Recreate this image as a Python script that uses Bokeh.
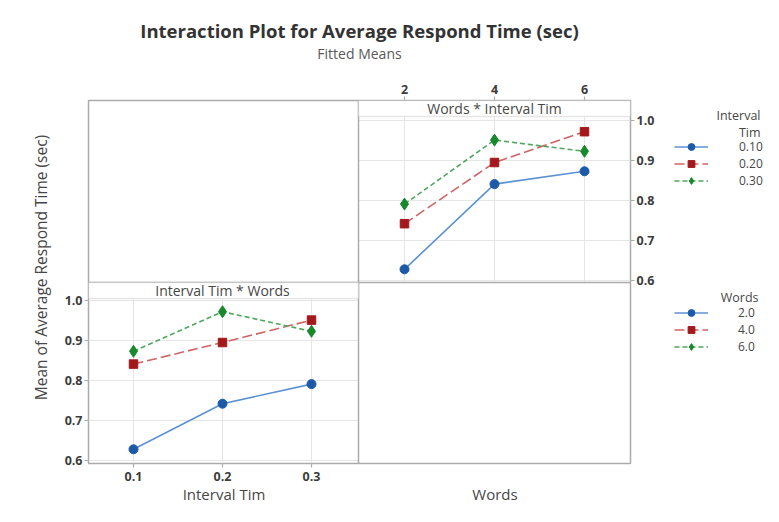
from bokeh.plotting import figure
from bokeh.layouts import column, row
from bokeh.models import (Range1d, LinearAxis, FixedTicker, Grid,
                          Span, BoxAnnotation, Label, Legend, LegendItem, PrintfTickFormatter)
from bokeh.embed import file_html
from bokeh.resources import INLINE

# ---------------- data ----------------
interval_levels = [0.1, 0.2, 0.3]
interval_labels = ["0.10", "0.20", "0.30"]
words_levels = [2, 4, 6]
words_labels = ["2.0", "4.0", "6.0"]
# fitted means for each Interval Tim level, ordered by Words = 2, 4, 6
means_int_010 = [0.628, 0.841, 0.873]
means_int_020 = [0.742, 0.895, 0.972]
means_int_030 = [0.791, 0.951, 0.923]
y_ticks = [0.6, 0.7, 0.8, 0.9, 1.0]

title_text = "Interaction Plot for Average Respond Time (sec)"
subtitle_text = "Fitted Means"
y_label_text = "Mean of Average Respond Time (sec)"
x_label_texts = ["Interval Tim", "Words"]
legend_titles = ["Interval", "Tim", "Words"]

# ---------------- style ----------------
FONT = "Open Sans"
BORDER = "#ababab"
GRID = "#e6e6e6"
TXT = "#3c3c3c"
LBL = "#474747"
line_colors = ["#5d92d2", "#cf6464", "#4ea75c"]
marker_colors = ["#1c5aa8", "#a3191b", "#17892c"]
markers = ["circle", "square", "diamond"]
marker_sizes = [9, 8.5, 12]
dashes = ["solid", "10 4", "5 3"]

means_by_interval = [means_int_010, means_int_020, means_int_030]
means_by_words = [[m[j] for m in means_by_interval] for j in range(len(words_levels))]

# ---------------- title strip ----------------
tf = figure(width=779, height=75, output_backend="svg", toolbar_location=None,
            x_range=Range1d(0, 779), y_range=Range1d(0, 75),
            x_axis_type=None, y_axis_type=None, min_border=0)
tf.outline_line_color = None
tf.add_layout(Label(x=359, y=45, x_units="screen", y_units="screen", text=title_text,
                    text_align="center", text_baseline="middle", text_font=FONT,
                    text_font_size="18.5px", text_font_style="bold", text_color="#333333"))
tf.add_layout(Label(x=359, y=22, x_units="screen", y_units="screen", text=subtitle_text,
                    text_align="center", text_baseline="middle", text_font=FONT,
                    text_font_size="14px", text_color="#595959"))

# ---------------- main panel matrix ----------------
p = figure(width=660, height=447, output_backend="svg", toolbar_location=None,
           x_range=Range1d(-5.022, 7.022), y_range=Range1d(0.1425, 1.05),
           x_axis_type=None, y_axis_type=None,
           min_border_left=88, min_border_right=30, min_border_top=25, min_border_bottom=59)
p.extra_x_ranges = {"interval": Range1d(0.04944, 0.6584), "lab": Range1d(0.5, 2.5)}
p.extra_y_ranges = {"bl": Range1d(0.5925, 1.5), "ylab": Range1d(-0.1737, 2.0)}
p.outline_line_color = BORDER
p.outline_line_width = 1.5

# panel extents (in each panel's own data units)
TR_X = (0.978, 7.022)
TR_Y = (0.595, 1.01)
BL_X = (0.04944, 0.35281)
BL_Y = (0.5925, 1.005)


def grid(dim, ticks, cross, **kw):
    p.add_layout(Grid(dimension=dim, ticker=FixedTicker(ticks=ticks), cross_bounds=cross,
                      grid_line_color=GRID, grid_line_width=1, **kw))


grid(0, words_levels, TR_Y)
grid(1, y_ticks, TR_X)
grid(0, interval_levels, BL_Y, x_range_name="interval", y_range_name="bl")
grid(1, y_ticks, BL_X, x_range_name="interval", y_range_name="bl")

# dividers
p.add_layout(Span(location=TR_X[0], dimension="height", line_color=BORDER, line_width=1.5))
p.add_layout(Span(location=TR_Y[0], dimension="width", line_color=BORDER, line_width=1.5))

# strips
p.add_layout(BoxAnnotation(left=TR_X[0], right=TR_X[1], bottom=TR_Y[1], top=1.05,
                           fill_color="white", fill_alpha=1, line_color=BORDER, line_width=1.5))
p.add_layout(BoxAnnotation(left=BL_X[0], right=BL_X[1], bottom=BL_Y[1], top=1.045,
                           x_range_name="interval", y_range_name="bl",
                           fill_color="white", fill_alpha=1, line_color=BORDER, line_width=1.5))
p.add_layout(Label(x=4, y=1.03, text="Words * Interval Tim", text_align="center",
                   text_baseline="middle", text_font=FONT, text_font_size="14px",
                   text_color=LBL))
p.add_layout(Label(x=0.2, y=1.025, x_range_name="interval", y_range_name="bl",
                   text="Interval Tim * Words", text_align="center",
                   text_baseline="middle", text_font=FONT, text_font_size="14px",
                   text_color=LBL))


def style_axis(ax):
    ax.axis_line_color = None
    ax.major_tick_line_color = BORDER
    ax.major_tick_line_width = 1.2
    ax.major_tick_in = 0
    ax.major_tick_out = 4
    ax.minor_tick_line_color = None
    ax.major_label_text_font = FONT
    ax.major_label_text_font_size = "12.5px"
    ax.major_label_text_font_style = "bold"
    ax.major_label_text_color = TXT
    ax.major_label_standoff = 2


def style_label_axis(ax, size):
    ax.axis_line_color = None
    ax.major_tick_line_color = None
    ax.major_tick_in = 0
    ax.major_tick_out = 0
    ax.minor_tick_line_color = None
    ax.major_label_text_font = FONT
    ax.major_label_text_font_size = size
    ax.major_label_text_font_style = "normal"
    ax.major_label_text_color = LBL


fmt1 = PrintfTickFormatter(format="%.1f")

ax_top = LinearAxis(ticker=FixedTicker(ticks=words_levels))
style_axis(ax_top)
ax_top.major_label_standoff = 3
p.add_layout(ax_top, "above")

ax_right = LinearAxis(ticker=FixedTicker(ticks=y_ticks), formatter=fmt1)
style_axis(ax_right)
p.add_layout(ax_right, "right")

ax_left = LinearAxis(y_range_name="bl", ticker=FixedTicker(ticks=y_ticks), formatter=fmt1)
style_axis(ax_left)
p.add_layout(ax_left, "left")

ax_left_lab = LinearAxis(y_range_name="ylab", ticker=FixedTicker(ticks=[1]),
                         major_label_overrides={1: y_label_text},
                         major_label_orientation="parallel")
style_label_axis(ax_left_lab, "15.5px")
ax_left_lab.major_label_standoff = 9
p.add_layout(ax_left_lab, "left")

ax_bottom = LinearAxis(x_range_name="interval", ticker=FixedTicker(ticks=interval_levels),
                       formatter=fmt1)
style_axis(ax_bottom)
ax_bottom.major_label_standoff = 4
p.add_layout(ax_bottom, "below")

ax_bottom_lab = LinearAxis(x_range_name="lab", ticker=FixedTicker(ticks=[1, 2]),
                           major_label_overrides={1: x_label_texts[0], 2: x_label_texts[1]})
style_label_axis(ax_bottom_lab, "15px")
ax_bottom_lab.major_label_standoff = 0
p.add_layout(ax_bottom_lab, "below")

# ---------------- data series ----------------
for k, ys in enumerate(means_by_interval):
    p.line(words_levels, ys, line_color=line_colors[k], line_width=1.6, line_dash=dashes[k])
    p.scatter(words_levels, ys, marker=markers[k], size=marker_sizes[k],
              fill_color=marker_colors[k], line_color=marker_colors[k])

for k, ys in enumerate(means_by_words):
    p.line(interval_levels, ys, line_color=line_colors[k], line_width=1.6, line_dash=dashes[k],
           x_range_name="interval", y_range_name="bl")
    p.scatter(interval_levels, ys, marker=markers[k], size=marker_sizes[k],
              fill_color=marker_colors[k], line_color=marker_colors[k],
              x_range_name="interval", y_range_name="bl")

# ---------------- legend column (its frame is aligned with the main frame) ----------------
lf = figure(width=119, height=447, output_backend="svg", toolbar_location=None,
            x_range=Range1d(0, 1), y_range=Range1d(0, 1),
            x_axis_type=None, y_axis_type=None, min_border=0)
lf.outline_line_color = None


def legend_items(xs, series, labels):
    items = []
    for k, ys in enumerate(series):
        l = lf.line(xs, ys, line_color=line_colors[k], line_width=1.6, line_dash=dashes[k],
                    visible=False)
        s = lf.scatter(xs, ys, marker=markers[k], size=marker_sizes[k],
                       fill_color=marker_colors[k], line_color=marker_colors[k], visible=False)
        items.append(LegendItem(label=labels[k], renderers=[l, s]))
    return items


def make_legend(items, loc, standoff):
    lf.add_layout(Legend(items=items, location=loc, orientation="vertical",
                         border_line_color=None, background_fill_alpha=0,
                         padding=0, margin=0, spacing=0,
                         glyph_width=34, glyph_height=17, label_height=17,
                         label_standoff=standoff,
                         label_text_font=FONT, label_text_font_size="12px",
                         label_text_color=LBL))


make_legend(legend_items(words_levels, means_by_interval, interval_labels), (14, 274), 31)
make_legend(legend_items(interval_levels, means_by_words, words_labels), (14, 108), 30)

for txt, x, y in [(legend_titles[0], 100, 348), (legend_titles[1], 100, 331),
                  (legend_titles[2], 98, 166)]:
    lf.add_layout(Label(x=x, y=y, x_units="screen", y_units="screen", text=txt,
                        text_align="right", text_baseline="middle", text_font=FONT,
                        text_font_size="12.5px", text_color=LBL))

layout = column(tf, row(p, lf))
open("out.html", "w").write(file_html(layout, INLINE))
